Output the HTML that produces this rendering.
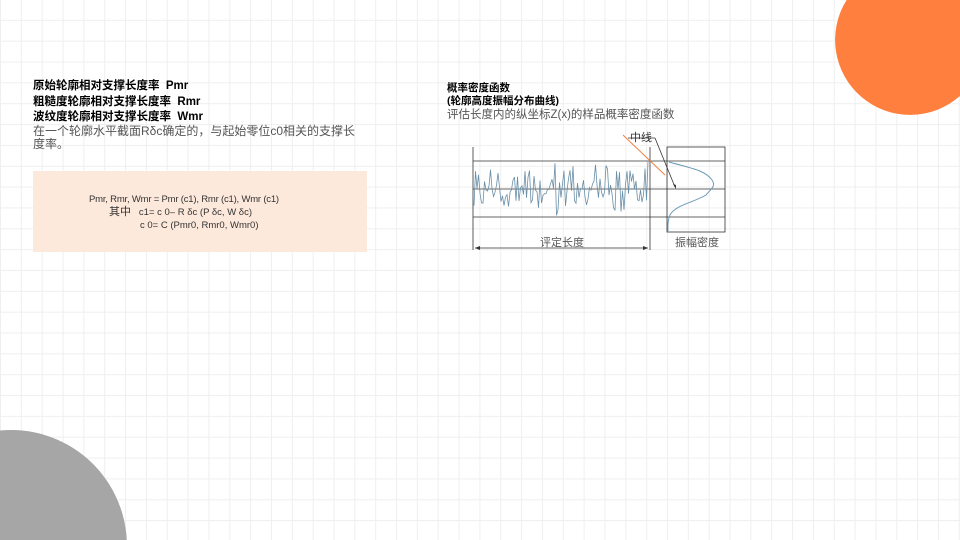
<!DOCTYPE html>
<html><head><meta charset="utf-8"><style>
html,body{margin:0;width:960px;height:540px;overflow:hidden;}
#p{position:relative;width:960px;height:540px;overflow:hidden;background-color:#fff;
background-image:linear-gradient(#efefef 1px,transparent 1px),linear-gradient(90deg,#efefef 1px,transparent 1px);
background-size:20.85px 20.85px;background-position:0 -1px;font-family:"Liberation Sans","Noto Sans CJK SC",sans-serif;}
.t{position:absolute;white-space:nowrap;}
</style></head><body><div id="p">
<svg style="position:absolute;left:0;top:0;display:block" width="960" height="540">
<path d="M846.6,0 L960,0 L960,95.9 A75,75 0 0 1 846.6,0 Z" fill="#ff7f3f"/>
<path d="M0,540 L126.8,540 A116,116 0 0 0 0,430.5 Z" fill="#a6a6a6"/>
<rect x="33" y="171" width="334" height="81" fill="#fde9dc"/>
<g stroke="#333" stroke-width="0.8" fill="none">
<line x1="473" y1="147" x2="473" y2="250"/><line x1="650" y1="147" x2="650" y2="250"/>
<line x1="473" y1="161" x2="725" y2="161"/><line x1="473" y1="189" x2="725" y2="189"/><line x1="473" y1="217" x2="725" y2="217"/>
<rect x="667" y="147" width="58" height="85"/>
<line x1="475" y1="248" x2="648" y2="248"/>
<line x1="628" y1="138" x2="655" y2="138"/><line x1="655" y1="138" x2="675" y2="187"/>
</g>
<path d="M475,248 l5,-2 v4z M648,248 l-5,-2 v4z M676,189 l-3,-5 l3,1z" fill="#333"/>
<line x1="623" y1="135" x2="665" y2="175" stroke="#f08040" stroke-width="1"/>
<path d="M669,162 C690,168 705,170 712,180 C716,186 712,188 706,195 C695,202 675,205 670,215 C667,222 668,228 668,231" stroke="#6a9ab8" fill="none" stroke-width="1"/>
<polyline id="w" fill="none" stroke="#6a8fa8" stroke-width="0.8"/>
<text x="641" y="141" font-size="11" fill="#333" text-anchor="middle" font-family="Noto Sans CJK SC,sans-serif">中线</text>
<text x="562" y="246" font-size="11" fill="#555" text-anchor="middle" font-family="Noto Sans CJK SC,sans-serif">评定长度</text>
<text x="697" y="246" font-size="11" fill="#555" text-anchor="middle" font-family="Noto Sans CJK SC,sans-serif">振幅密度</text>
</svg>
<div class="t" style="left:33px;top:79px;font-size:11.5px;line-height:15.5px;color:#000;font-weight:bold">原始轮廓相对支撑长度率 &nbsp;Pmr<br>粗糙度轮廓相对支撑长度率 &nbsp;Rmr<br>波纹度轮廓相对支撑长度率 &nbsp;Wmr</div>
<div class="t" style="left:33px;top:125px;font-size:12px;line-height:13px;color:#555">在一个轮廓水平截面Rδc确定的，与起始零位c0相关的支撑长<br>度率。</div>
<div class="t" style="left:89px;top:193px;font-size:9.5px;line-height:13px;color:#333;letter-spacing:-0.2px">Pmr, Rmr, Wmr = Pmr (c1), Rmr (c1), Wmr (c1)</div>
<div class="t" style="left:109px;top:206px;font-size:9.5px;line-height:13px;color:#333"><span style="font-size:11px">其中</span> &nbsp;&nbsp;c1= c 0– R δc (P δc, W δc)</div>
<div class="t" style="left:140px;top:219px;font-size:9.5px;line-height:13px;color:#333">c 0= C (Pmr0, Rmr0, Wmr0)</div>
<div class="t" style="left:447px;top:82px;font-size:10.5px;line-height:13px;font-weight:bold;color:#000">概率密度函数<br>(轮廓高度振幅分布曲线)</div>
<div class="t" style="left:447px;top:109px;font-size:11.5px;line-height:13px;color:#555">评估长度内的纵坐标Z(x)的样品概率密度函数</div>
<script>
var s=11,pts=[];function r(){s=(s*9301+49297)%233280;return s/233280;}
for(var x=474;x<=649;x+=1.5){var y=189+(r()+r()-1)*30;y=Math.max(155,Math.min(231,y));pts.push(x.toFixed(1)+","+y.toFixed(1));}
document.getElementById("w").setAttribute("points",pts.join(" "));
</script>
</div></body></html>
